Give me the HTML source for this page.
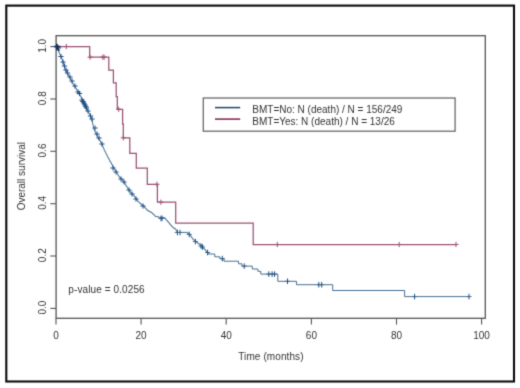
<!DOCTYPE html>
<html><head><meta charset="utf-8"><style>
html,body{margin:0;padding:0;background:#fff;}
svg{display:block;}
text{font-family:"Liberation Sans",sans-serif;font-size:10px;fill:#333;}
</style></head><body>
<svg width="520" height="388" viewBox="0 0 520 388">
<defs><filter id="bl" color-interpolation-filters="sRGB" x="0" y="0" width="520" height="388" filterUnits="userSpaceOnUse"><feConvolveMatrix order="3" kernelMatrix="0.0192 0.1001 0.0192 0.1001 0.5228 0.1001 0.0192 0.1001 0.0192" edgeMode="duplicate"/></filter></defs>
<g filter="url(#bl)">
<rect x="0" y="0" width="520" height="388" fill="#fff"/>
<rect x="6.3" y="5.6" width="507.7" height="375.9" fill="none" stroke="#0a0a0a" stroke-width="2.1"/>
<rect x="56.1" y="35.7" width="429.2" height="282.6" fill="none" stroke="#555" stroke-width="1.3"/>
<g stroke="#555" stroke-width="1.1" fill="none"><path d="M56.0 318.3V324.6"/><path d="M141.1 318.3V324.6"/><path d="M226.2 318.3V324.6"/><path d="M311.4 318.3V324.6"/><path d="M396.5 318.3V324.6"/><path d="M481.6 318.3V324.6"/><path d="M50.3 308.4H56"/><path d="M50.3 256.0H56"/><path d="M50.3 203.7H56"/><path d="M50.3 151.3H56"/><path d="M50.3 99.0H56"/><path d="M50.3 46.6H56"/></g>
<g><text x="56.0" y="339" text-anchor="middle">0</text><text x="141.1" y="339" text-anchor="middle">20</text><text x="226.2" y="339" text-anchor="middle">40</text><text x="311.4" y="339" text-anchor="middle">60</text><text x="396.5" y="339" text-anchor="middle">80</text><text x="481.6" y="339" text-anchor="middle">100</text><text transform="translate(46 307.6) rotate(-90)" text-anchor="middle">0.0</text><text transform="translate(46 255.2) rotate(-90)" text-anchor="middle">0.2</text><text transform="translate(46 202.9) rotate(-90)" text-anchor="middle">0.4</text><text transform="translate(46 150.5) rotate(-90)" text-anchor="middle">0.6</text><text transform="translate(46 98.2) rotate(-90)" text-anchor="middle">0.8</text><text transform="translate(46 45.8) rotate(-90)" text-anchor="middle">1.0</text></g>
<text transform="translate(24.8 176.2) rotate(-90)" text-anchor="middle">Overall survival</text>
<text x="270.9" y="359.8" text-anchor="middle" textLength="65.3" lengthAdjust="spacing">Time (months)</text>
<text x="68.3" y="292.8" textLength="76.3" lengthAdjust="spacing">p-value = 0.0256</text>
<polyline points="56.0,46.5 56.5,46.5 56.5,47.5 57.0,47.5 57.0,48.6 57.5,48.6 57.5,49.6 58.0,49.6 58.0,50.7 58.5,50.7 58.5,51.7 59.0,51.7 59.0,52.8 59.5,52.8 59.5,53.8 60.0,53.8 60.0,54.9 60.5,54.9 60.5,55.9 61.0,55.9 61.0,57.0 61.4,57.0 61.4,58.0 61.8,58.0 61.8,59.1 62.2,59.1 62.2,60.1 62.6,60.1 62.6,61.2 62.9,61.2 62.9,62.2 63.2,62.2 63.2,63.3 63.5,63.3 63.5,64.3 63.8,64.3 63.8,65.4 64.1,65.4 64.1,66.4 64.5,66.4 64.5,67.5 64.8,67.5 64.8,68.5 65.1,68.5 65.1,69.6 65.5,69.6 65.5,70.6 66.1,70.6 66.1,71.7 66.8,71.7 66.8,72.7 67.4,72.7 67.4,73.8 68.0,73.8 68.0,74.8 68.6,74.8 68.6,75.9 69.2,75.9 69.2,76.9 69.8,76.9 69.8,78.0 70.3,78.0 70.3,79.0 70.9,79.0 70.9,80.1 71.4,80.1 71.4,81.1 72.0,81.1 72.0,82.2 72.5,82.2 72.5,83.2 73.1,83.2 73.1,84.3 73.7,84.3 73.7,85.3 74.4,85.3 74.4,86.4 75.0,86.4 75.0,87.4 75.7,87.4 75.7,88.5 76.4,88.5 76.4,89.5 77.0,89.5 77.0,90.6 77.6,90.6 77.6,91.6 78.3,91.6 78.3,92.7 78.9,92.7 78.9,93.7 79.5,93.7 79.5,94.8 80.1,94.8 80.1,95.8 80.7,95.8 80.7,96.9 81.2,96.9 81.2,97.9 81.7,97.9 81.7,99.0 82.2,99.0 82.2,100.0 82.8,100.0 82.8,101.1 83.3,101.1 83.3,102.1 83.8,102.1 83.8,103.2 84.3,103.2 84.3,104.2 84.8,104.2 84.8,105.3 85.3,105.3 85.3,106.3 85.9,106.3 85.9,107.4 86.4,107.4 86.4,108.4 86.9,108.4 86.9,109.5 87.5,109.5 87.5,110.5 88.0,110.5 88.0,111.6 88.5,111.6 88.5,112.6 89.0,112.6 89.0,113.7 89.6,113.7 89.6,114.7 90.1,114.7 90.1,115.8 90.6,115.8 90.6,116.8 91.1,116.8 91.1,117.9 91.6,117.9 91.6,118.9 91.8,118.9 91.8,120.0 92.0,120.0 92.0,121.0 92.3,121.0 92.3,122.1 92.5,122.1 92.5,123.1 92.8,123.1 92.8,124.2 93.0,124.2 93.0,125.2 93.2,125.2 93.2,126.3 93.5,126.3 93.5,127.3 93.7,127.3 93.7,128.4 94.0,128.4 94.0,129.4 94.3,129.4 94.3,130.5 94.9,130.5 94.9,131.5 95.4,131.5 95.4,132.6 95.9,132.6 95.9,133.6 96.4,133.6 96.4,134.7 97.0,134.7 97.0,135.7 97.5,135.7 97.5,136.8 98.0,136.8 98.0,137.8 98.6,137.8 98.6,138.9 99.2,138.9 99.2,139.9 99.9,139.9 99.9,141.0 100.5,141.0 100.5,142.0 101.1,142.0 101.1,143.1 101.6,143.1 101.6,144.1 102.1,144.1 102.1,145.2 102.5,145.2 102.5,146.2 103.0,146.2 103.0,147.3 103.4,147.3 103.4,148.3 103.9,148.3 103.9,149.4 104.3,149.4 104.3,150.5 104.9,150.5 104.9,151.5 105.4,151.5 105.4,152.6 105.9,152.6 105.9,153.6 106.4,153.6 106.4,154.7 107.0,154.7 107.0,155.7 107.5,155.7 107.5,156.8 108.0,156.8 108.0,157.8 108.6,157.8 108.6,158.9 109.2,158.9 109.2,159.9 109.7,159.9 109.7,161.0 110.3,161.0 110.3,162.0 110.9,162.0 110.9,163.1 111.5,163.1 111.5,164.1 112.1,164.1 112.1,165.2 112.6,165.2 112.6,166.2 113.2,166.2 113.2,167.3 113.7,167.3 113.7,168.3 114.3,168.3 114.3,169.4 114.9,169.4 114.9,170.4 115.5,170.4 115.5,171.5 116.2,171.5 116.2,172.5 116.9,172.5 116.9,173.6 117.5,173.6 117.5,174.6 118.2,174.6 118.2,175.7 118.9,175.7 118.9,176.7 119.7,176.7 119.7,177.8 120.7,177.8 120.7,178.8 121.8,178.8 121.8,179.9 122.9,179.9 122.9,180.9 123.8,180.9 123.8,182.0 124.4,182.0 124.4,183.0 125.0,183.0 125.0,184.1 125.6,184.1 125.6,185.1 126.2,185.1 126.2,186.2 126.9,186.2 126.9,187.2 127.5,187.2 127.5,188.3 128.2,188.3 128.2,189.3 128.9,189.3 128.9,190.4 129.6,190.4 129.6,191.4 130.4,191.4 130.4,192.5 131.4,192.5 131.4,193.5 132.4,193.5 132.4,194.6 133.3,194.6 133.3,195.6 134.3,195.6 134.3,196.7 135.1,196.7 135.1,197.7 135.9,197.7 135.9,198.8 136.6,198.8 136.6,199.8 137.3,199.8 137.3,200.9 138.1,200.9 138.1,201.9 139.1,201.9 139.1,203.0 140.4,203.0 140.4,204.0 141.8,204.0 141.8,205.1 143.1,205.1 143.1,206.1 144.2,206.1 144.2,207.2 145.1,207.2 145.1,208.2 146.0,208.2 146.0,209.3 146.9,209.3 146.9,210.3 148.5,210.3 148.5,211.4 150.4,211.4 150.4,212.4 152.1,212.4 152.1,213.5 153.1,213.5 153.1,214.5 154.2,214.5 154.2,215.6 155.2,215.6 155.2,216.6 158.7,216.6 158.7,217.7 165.0,217.7 165.0,218.7 165.9,218.7 165.9,219.8 166.8,219.8 166.8,220.8 167.7,220.8 167.7,221.9 168.6,221.9 168.6,222.9 169.5,222.9 169.5,224.0 170.4,224.0 170.4,225.0 171.3,225.0 171.3,226.1 172.3,226.1 172.3,227.1 173.2,227.1 173.2,228.2 175.1,228.2 175.1,229.2 175.9,229.2 175.9,230.3 176.6,230.3 176.6,231.3 177.3,231.3 177.3,232.4 187.5,232.4 187.5,233.4 189.2,233.4 189.2,234.5 190.0,234.5 190.0,235.5 190.8,235.5 190.8,236.6 191.6,236.6 191.6,237.6 192.3,237.6 192.3,238.7 193.1,238.7 193.1,239.7 194.3,239.7 194.3,240.8 195.7,240.8 195.7,241.8 197.0,241.8 197.0,242.9 198.4,242.9 198.4,243.9 199.7,243.9 199.7,245.0 201.1,245.0 201.1,246.0 202.3,246.0 202.3,247.1 203.2,247.1 203.2,248.1 204.2,248.1 204.2,249.2 205.1,249.2 205.1,250.2 206.0,250.2 206.0,251.3 206.9,251.3 206.9,252.3 207.8,252.3 207.8,253.4 208.3,253.4 208.3,254.0" fill="none" stroke="#4a7090" stroke-width="1.0"/>
<polyline points="208.3,254.0 214.8,254.0 214.8,256.8 220.0,256.8 220.0,258.8 224.0,258.8 224.0,261.2 238.5,261.2 238.5,263.8 241.9,263.8 241.9,266.1 252.3,266.1 252.3,269.0 257.9,269.0 257.9,271.3 260.8,271.3 260.8,274.1 277.8,274.1 277.8,281.3 296.5,281.3 296.5,284.7 332.7,284.7 332.7,290.5 404.6,290.5 404.6,296.6 469.0,296.6" fill="none" stroke="#4a7090" stroke-width="1.0"/>
<path d="M158.4 218.4H163.6M159.4 218.4H164.6M174.8 232.5H180.0M177.4 232.5H182.6M186.6 234.4H191.8M192.8 241.6H198.0M198.4 246.0H203.6M199.9 247.0H205.1M205.0 252.5H210.2M219.7 258.6H224.9M241.6 266.1H246.8M266.2 274.1H271.4M269.5 274.1H274.7M272.0 274.1H277.2M284.9 281.3H290.1M316.2 284.7H321.4M319.1 284.7H324.3M412.0 296.6H417.2M466.4 296.6H471.6" fill="none" stroke="#4a7090" stroke-width="1.0"/>
<path d="M161.0 215.6V221.2M162.0 215.6V221.2M177.4 229.7V235.3M180.0 229.7V235.3M189.2 231.6V237.2M195.4 238.8V244.4M201.0 243.2V248.8M202.5 244.2V249.8M207.6 249.7V255.3M222.3 255.8V261.4M244.2 263.3V268.9M268.8 271.3V276.9M272.1 271.3V276.9M274.6 271.3V276.9M287.5 278.5V284.1M318.8 281.9V287.5M321.7 281.9V287.5M414.6 293.8V299.4M469.0 293.8V299.4" fill="none" stroke="#1d4f85" stroke-width="1.0"/>
<path d="M53.9 46.5H59.1M56.5 43.9V49.1M54.4 46.5H59.6M57.0 43.9V49.1M54.9 47.0H60.1M57.5 44.4V49.6M55.9 48.0H61.1M58.5 45.4V50.6M58.4 56.5H63.6M61.0 53.9V59.1M60.4 62.0H65.6M63.0 59.4V64.6M61.9 66.0H67.1M64.5 63.4V68.6M63.4 70.0H68.6M66.0 67.4V72.6M64.9 73.0H70.1M67.5 70.4V75.6M67.4 77.0H72.6M70.0 74.4V79.6M69.4 81.0H74.6M72.0 78.4V83.6M72.4 86.0H77.6M75.0 83.4V88.6M75.4 92.0H80.6M78.0 89.4V94.6M79.4 100.0H84.6M82.0 97.4V102.6M80.2 101.5H85.4M82.8 98.9V104.1M80.9 102.0H86.1M83.5 99.4V104.6M81.6 103.8H86.8M84.2 101.2V106.4M82.4 105.0H87.6M85.0 102.4V107.6M83.2 106.6H88.4M85.8 104.0V109.2M83.9 108.0H89.1M86.5 105.4V110.6M76.9 93.5H82.1M79.5 90.9V96.1M85.4 111.0H90.6M88.0 108.4V113.6M87.9 116.0H93.1M90.5 113.4V118.6M89.4 119.0H94.6M92.0 116.4V121.6M92.4 128.0H97.6M95.0 125.4V130.6M94.4 134.0H99.6M97.0 131.4V136.6M96.4 138.0H101.6M99.0 135.4V140.6M99.4 144.0H104.6M102.0 141.4V146.6M110.4 168.0H115.6M113.0 165.4V170.6M113.4 172.0H118.6M116.0 169.4V174.6M118.4 179.0H123.6M121.0 176.4V181.6M121.4 182.0H126.6M124.0 179.4V184.6M126.4 190.0H131.6M129.0 187.4V192.6M129.4 194.0H134.6M132.0 191.4V196.6M133.4 199.0H138.6M136.0 196.4V201.6M140.4 206.0H145.6M143.0 203.4V208.6" fill="none" stroke="#1d4f85" stroke-width="1.0"/>
<polyline points="56.0,46.5 89.7,46.5 89.7,57.2 108.8,57.2 108.8,70.0 113.4,70.0 113.4,82.8 116.2,82.8 116.2,96.7 117.3,96.7 117.3,109.3 122.6,109.3 122.6,124.0 123.3,124.0 123.3,137.8 129.8,137.8 129.8,153.3 136.3,153.3 136.3,168.2 147.3,168.2 147.3,184.3 157.4,184.3 157.4,202.2 175.7,202.2 175.7,223.1 253.2,223.1 253.2,244.5 456.0,244.5" fill="none" stroke="#9a5274" stroke-width="1.25"/>
<path d="M63.7 46.5H68.9M66.3 43.9V49.1M87.5 57.2H92.7M90.1 54.6V59.8M100.2 57.2H105.4M102.8 54.6V59.8M101.5 57.2H106.7M104.1 54.6V59.8M116.1 109.3H121.3M118.7 106.7V111.9M120.7 137.8H125.9M123.3 135.2V140.4M154.4 184.3H159.6M157.0 181.7V186.9M158.3 202.2H163.5M160.9 199.6V204.8M274.7 244.5H279.9M277.3 241.9V247.1M396.6 244.5H401.8M399.2 241.9V247.1M453.4 244.5H458.6M456.0 241.9V247.1" fill="none" stroke="#9a5274" stroke-width="1.0"/>
<path d="M54 46.5H60.5M56.8 43.8V50.5M57.5 47.5L59.5 51" fill="none" stroke="#1a2f5a" stroke-width="1.3"/>
<rect x="203.3" y="98" width="251.8" height="33.2" fill="none" stroke="#6a6a6a" stroke-width="1.3"/>
<path d="M215 107.6H240.2" stroke="#1d4770" stroke-width="1.5"/>
<path d="M215 119.1H240.2" stroke="#80224c" stroke-width="1.5"/>
<text x="252.3" y="113">BMT=No: N (death) / N = 156/249</text>
<text x="252.3" y="124.5">BMT=Yes: N (death) / N = 13/26</text>
</g>
</svg>
</body></html>
